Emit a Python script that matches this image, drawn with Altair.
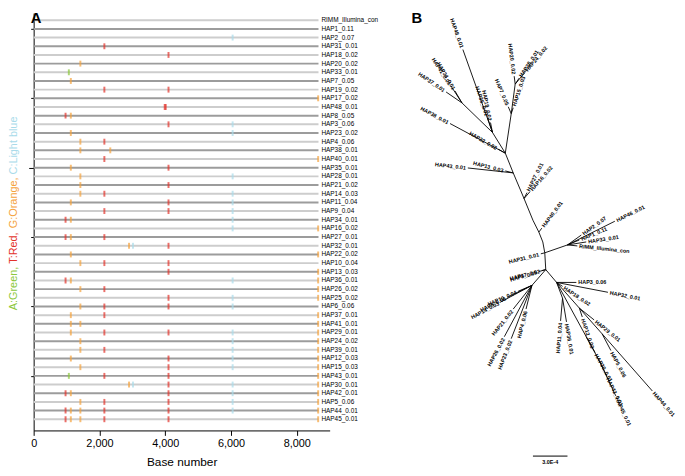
import math
import altair as alt
import pandas as pd

FONT = "Liberation Sans"

# ---------------- Panel A data ----------------
row_labels = [
    "RIMM_Illumina_con", "HAP1_0.11", "HAP2_0.07", "HAP31_0.01", "HAP18_0.02",
    "HAP20_0.02", "HAP33_0.01", "HAP7_0.05", "HAP19_0.02", "HAP17_0.02",
    "HAP48_0.01", "HAP8_0.05", "HAP3_0.06", "HAP23_0.02", "HAP4_0.06",
    "HAP38_0.01", "HAP40_0.01", "HAP35_0.01", "HAP28_0.01", "HAP21_0.02",
    "HAP14_0.03", "HAP11_0.04", "HAP9_0.04", "HAP34_0.01", "HAP16_0.02",
    "HAP27_0.01", "HAP32_0.01", "HAP22_0.02", "HAP10_0.04", "HAP13_0.03",
    "HAP36_0.01", "HAP26_0.02", "HAP25_0.02", "HAP6_0.06", "HAP37_0.01",
    "HAP41_0.01", "HAP29_0.01", "HAP24_0.02", "HAP39_0.01", "HAP12_0.03",
    "HAP15_0.03", "HAP43_0.01", "HAP30_0.01", "HAP42_0.01", "HAP5_0.06",
    "HAP44_0.01", "HAP45_0.01",
]
# variant base + position (base number) for each row
row_variants = [
    "", "", "C6050", "T2150", "T4100",
    "G1420", "A1070", "G1130", "T2150 T4100", "G8650",
    "T3985 T4015", "T970 G1130", "T4100 C6050", "G1130 C6050", "G1420 T2150",
    "G1420 G2330", "T2150 G8650", "G1130 T4100", "G1420 C6050", "G1420 T4100",
    "G1420 T2150 C6050", "G1130 T4100 C6050", "T2150 T4100 C6050", "T970 G1130 C6050", "C6050 G8650",
    "T970 G1130 T2150", "G2900 C3020 T4100", "G1130 G8650", "G1420 T2150 T4100", "T4100 G8650",
    "T970 G1130 C6050 G8650", "G1420 T2150 G8650", "T4100 C6050 G8650", "G1420 T2150 T4100 C6050", "G1130 T2150 G8650",
    "G1130 G1420 G8650", "G1130 T2150 T4100 C6050 G8650", "G1420 C6050 G8650", "G1420 T2150 C6050 G8650", "G1130 T4100 C6050 G8650",
    "G1420 T4100 C6050 G8650", "A1070 T2150 T4100 G8650", "G2900 C3020 T4100 C6050 G8650", "T970 G1130 T4100 C6050 G8650", "G1420 T2150 T4100 C6050 G8650",
    "T970 G1130 G1420 T2150 T4100 C6050 G8650", "T970 G1130 G1420 T2150 T4100 G8650",
]
bases = ["A", "T", "G", "C"]
base_colours = ["#8cc83c", "#e3332b", "#f5a23c", "#a9dbea"]
title_parts = ["A:Green, ", "T:Red, ", "G:Orange, ", "C:Light blue"]
title_colours = ["#8cc83c", "#e3332b", "#f5a23c", "#a9dbea"]
sequence_end = 8660
x_major = [0, 2000, 4000, 6000, 8000]

# ---------------- Panel B data (unrooted tree layout) ----------------
tree_node = ["U1", "A", "LC", "UR1", "UR2", "T1", "T2", "T3", "T4", "T5", "T6", "J", "R",
             "LL", "LR", "LR1", "M1", "M2", "L3", "L4",
             "l1", "l2", "l3", "l4", "l5", "l6", "l7", "l8", "l9", "l10", "l11", "l12",
             "l13", "l14", "l15", "l16", "l17", "l18", "l19", "l20", "l21", "l22", "l23",
             "l24", "l25", "l26", "l27", "l28", "l29", "l30", "l31", "l32", "l33", "l34",
             "l35", "l36", "l37", "l38", "l39", "l40", "l41", "l42", "l43", "l44", "l45"]
tree_x = [511, 498, 467, 517, 521, 519, 530, 539, 545, 549, 551, 552, 574,
          538, 563, 569, 586, 609, 593, 606,
          468, 493, 496, 456, 451, 460, 455, 504, 473, 511, 519, 514,
          520, 525, 531, 533, 536, 548, 547, 622, 588, 586, 593,
          584, 545, 548, 506, 513, 524, 519, 532, 510, 517, 583,
          615, 569, 567, 573, 589, 601, 618, 660, 602, 614, 623]
tree_y = [152, 131, 101, 112, 82, 172, 198, 220, 232, 242, 253, 270, 245,
          286, 283, 299, 309, 335, 338, 362,
          47, 116, 121, 84, 90, 89, 122, 148, 167, 170, 106, 105,
          74, 76, 70, 192, 191, 228, 254, 221, 235, 240, 242,
          246, 272, 271, 303, 298, 292, 310, 310, 338, 340, 283,
          293, 287, 322, 323, 318, 321, 352, 393, 354, 378, 398]
tree_parent = ["", "U1", "A", "U1", "UR1", "U1", "T1", "T2", "T3", "T4", "T5", "T6", "T6",
               "J", "J", "LR", "LR", "M1", "LR", "L3",
               "A", "A", "A", "LC", "LC", "LC", "U1", "U1", "T1", "T1", "UR1", "UR1",
               "UR2", "UR2", "UR2", "T2", "T2", "T4", "T6", "R", "R", "R", "R",
               "R", "J", "J", "LL", "LL", "LL", "LL", "LL", "LL", "LL", "LR",
               "LR", "LR", "LR1", "LR1", "M1", "M1", "M2", "M2", "L3", "L4", "L4"]
tree_label = [""] * 20 + [
    "HAP48_0.01", "HAP35_0.01", "HAP19_0.02", "HAP41_0.01", "HAP37_0.01", "HAP34_0.01",
    "HAP38_0.01", "HAP22_0.02", "HAP43_0.01", "HAP13_0.03", "HAP15_0.03", "HAP7_0.05",
    "HAP20_0.02", "HAP28_0.01", "HAP24_0.02", "HAP27_0.01", "HAP16_0.02", "HAP40_0.01",
    "HAP31_0.01", "HAP46_0.01", "HAP2_0.07", "HAP1_0.11", "HAP33_0.01",
    "RIMM_Illumina_con", "HAP8_0.05", "HAP17_0.02", "HAP14_0.03", "HAP6_0.06",
    "HAP10_0.04", "HAP21_0.02", "HAP4_0.06", "HAP26_0.02", "HAP23_0.02", "HAP3_0.06",
    "HAP32_0.01", "HAP18_0.02", "HAP11_0.04", "HAP36_0.01", "HAP12_0.03", "HAP29_0.01",
    "HAP5_0.06", "HAP44_0.01", "HAP30_0.01", "HAP42_0.01", "HAP45_0.01"]
scale_bar_x = [539, 574]
scale_bar_y = 459
scale_bar_text = "3.0E-4"

# ---------------- Panel A ----------------
n = len(row_labels)
rows_df = pd.DataFrame({
    "label": row_labels,
    "idx": list(range(n)),
    "x0": [0] * n,
    "x1": [sequence_end] * n,
    "lx": [8750] * n,
    "col": ["#cdcdcd" if i % 2 == 0 else "#9c9c9c" for i in range(n)],
})
colour_of = dict(zip(bases, base_colours))
var_rows = []
for i, v in enumerate(row_variants):
    for tok in v.split():
        var_rows.append({"idx": i, "pos": int(tok[1:]), "col": colour_of[tok[0]]})
var_df = pd.DataFrame(var_rows)

xs = alt.Scale(domain=[0, 9000], nice=False, zero=False)
ys = alt.Scale(domain=[-0.83, 47.29], nice=False, zero=False, reverse=True)

x_axis = alt.Axis(
    values=list(range(0, 9001, 500)),
    labelExpr="datum.value % 2000 === 0 ? format(datum.value, ',') : ''",
    tickSize={"condition": {"test": "datum.value % 2000 === 0", "value": 5}, "value": 3},
    grid=False, labelFlush=False, labelOverlap=False,
    labelFont=FONT, labelFontSize=11, labelColor="black", labelPadding=2,
    domainColor="black", tickColor="black",
    title="Base number", titleFont=FONT, titleFontSize=12, titleFontWeight="normal",
    titleColor="black", titlePadding=9,
)
y_axis = alt.Axis(
    values=list(range(1, n, 2)), labels=False, grid=False, title=None,
    tickSize={"condition": {"test": "datum.value % 10 === 7", "value": 5}, "value": 3},
    domainColor="black", tickColor="black",
)

lines = alt.Chart(rows_df).mark_rule(strokeWidth=2).encode(
    x=alt.X("x0:Q", scale=xs, axis=x_axis),
    x2="x1:Q",
    y=alt.Y("idx:Q", scale=ys, axis=y_axis),
    color=alt.Color("col:N", scale=None),
)
ticks = alt.Chart(var_df).mark_tick(orient="vertical", thickness=2, size=6).encode(
    x=alt.X("pos:Q", scale=xs),
    y=alt.Y("idx:Q", scale=ys),
    color=alt.Color("col:N", scale=None),
)
labels = alt.Chart(rows_df).mark_text(
    align="left", baseline="middle", fontSize=6.5, font=FONT, color="black"
).encode(
    x=alt.X("lx:Q", scale=xs),
    y=alt.Y("idx:Q", scale=ys),
    text="label:N",
)

# multi-coloured rotated y title
arial = {"A": 667, "G": 778, "T": 611, "R": 722, "C": 722, "L": 556, "O": 778, ":": 278,
         ",": 278, " ": 278, "r": 333, "e": 556, "n": 556, "d": 556, "a": 556, "g": 556,
         "i": 222, "h": 556, "t": 278, "b": 556, "l": 222, "u": 556}
tfs = 11
widths = [sum(arial.get(c, 556) for c in p) * tfs / 1000 for p in title_parts]
start = 203 + sum(widths) / 2
title_layers = []
for p, c, w in zip(title_parts, title_colours, widths):
    title_layers.append(
        alt.Chart(pd.DataFrame({"k": [0]})).mark_text(
            angle=270, align="left", baseline="middle", fontSize=tfs, font=FONT, color=c
        ).encode(x=alt.value(-20), y=alt.value(start), text=alt.value(p.strip()))
    )
    start -= w

letter_a = alt.Chart(pd.DataFrame({"k": [0]})).mark_text(
    align="left", baseline="top", fontSize=15, font=FONT, fontWeight="bold", color="black"
).encode(x=alt.value(-3), y=alt.value(-2), text=alt.value("A"))

panel_a = alt.layer(lines, ticks, labels, *title_layers, letter_a).properties(
    width=300, height=423
)

# ---------------- Panel B ----------------
pos = {nm: (x, y) for nm, x, y in zip(tree_node, tree_x, tree_y)}
edge_rows = []
for nm, par in zip(tree_node, tree_parent):
    if par:
        edge_rows.append({"x": pos[par][0], "y": pos[par][1], "x2": pos[nm][0], "y2": pos[nm][1]})
edge_df = pd.DataFrame(edge_rows)

lab_rows = []
for nm, par, lab in zip(tree_node, tree_parent, tree_label):
    if lab:
        dx = pos[nm][0] - pos[par][0]
        dy = pos[nm][1] - pos[par][1]
        ang = math.degrees(math.atan2(dy, dx))
        flip = dx < 0
        if flip:
            ang += 180
        lab_rows.append({"x": pos[nm][0], "y": pos[nm][1], "ang": ang % 360,
                         "flip": flip, "text": lab})
lab_df = pd.DataFrame(lab_rows)

bxs = alt.Scale(domain=[410, 685], nice=False, zero=False)
bys = alt.Scale(domain=[10, 470], nice=False, zero=False, reverse=True)

edges = alt.Chart(edge_df).mark_rule(strokeWidth=0.9, color="black").encode(
    x=alt.X("x:Q", scale=bxs, axis=None),
    y=alt.Y("y:Q", scale=bys, axis=None),
    x2="x2:Q", y2="y2:Q",
)
lab_right = alt.Chart(lab_df).transform_filter("!datum.flip").mark_text(
    align="left", baseline="middle", fontSize=5.5, font=FONT, fontWeight="bold", dx=2,
    color="black"
).encode(
    x=alt.X("x:Q", scale=bxs, axis=None),
    y=alt.Y("y:Q", scale=bys, axis=None),
    angle=alt.Angle("ang:Q", scale=None),
    text="text:N",
)
lab_left = alt.Chart(lab_df).transform_filter("datum.flip").mark_text(
    align="right", baseline="middle", fontSize=5.5, font=FONT, fontWeight="bold", dx=-2,
    color="black"
).encode(
    x=alt.X("x:Q", scale=bxs, axis=None),
    y=alt.Y("y:Q", scale=bys, axis=None),
    angle=alt.Angle("ang:Q", scale=None),
    text="text:N",
)
bar_df = pd.DataFrame({"x": [scale_bar_x[0]], "x2": [scale_bar_x[1]], "y": [scale_bar_y],
                       "xm": [sum(scale_bar_x) / 2], "t": [scale_bar_text]})
bar = alt.Chart(bar_df).mark_rule(strokeWidth=1, color="black").encode(
    x=alt.X("x:Q", scale=bxs, axis=None), x2="x2:Q",
    y=alt.Y("y:Q", scale=bys, axis=None),
)
bar_text = alt.Chart(bar_df).mark_text(
    baseline="top", fontSize=5.5, font=FONT, fontWeight="bold", dy=4, color="black"
).encode(
    x=alt.X("xm:Q", scale=bxs, axis=None),
    y=alt.Y("y:Q", scale=bys, axis=None),
    text="t:N",
)
letter_b = alt.Chart(pd.DataFrame({"k": [0]})).mark_text(
    align="left", baseline="top", fontSize=15, font=FONT, fontWeight="bold", color="black"
).encode(x=alt.value(6), y=alt.value(-2), text=alt.value("B"))

panel_b = alt.layer(edges, lab_right, lab_left, bar, bar_text, letter_b).properties(
    width=275, height=460
)

chart = alt.hconcat(panel_a, panel_b, spacing=77, bounds="flush").properties(
    padding=0
).configure_view(stroke=None)

chart.save("out.html", embed_options={"renderer": "svg", "actions": False})
